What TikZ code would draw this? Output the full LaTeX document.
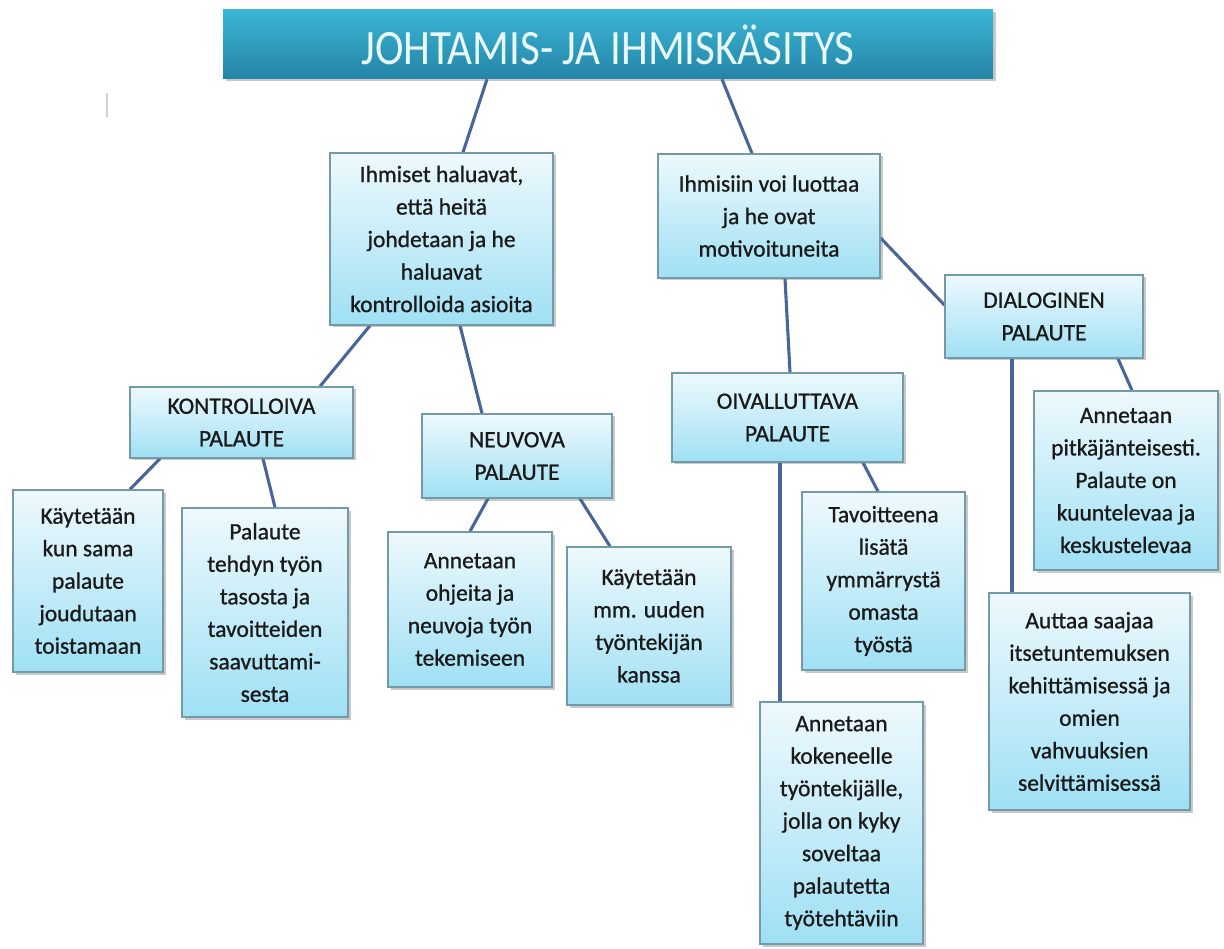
\documentclass[tikz,border=0pt]{standalone}
\usepackage{fontspec}
\setmainfont{Carlito}
\newfontfamily\boxfont[FakeBold=0.9]{Carlito}
\usetikzlibrary{shadows,backgrounds}
\definecolor{boxtop}{HTML}{EEF9FD}
\definecolor{boxbot}{HTML}{9FE0F4}
\definecolor{boxedge}{HTML}{7499A8}
\definecolor{ttop}{HTML}{3AB5D6}
\definecolor{tbot}{HTML}{2584A6}
\definecolor{ttext}{HTML}{E8F8FC}
\definecolor{conn}{HTML}{4A6699}
\definecolor{txt}{HTML}{1A1A1A}
\tikzset{
  box/.style={draw=boxedge, line width=1.3pt, top color=boxtop, bottom color=boxbot,
    align=center, inner sep=0pt, text=txt,
    font=\boxfont\fontsize{23.5}{32.5}\selectfont,
    drop shadow={shadow xshift=2.5pt, shadow yshift=-2.5pt, opacity=0.35, fill=black!60}},
  titlebox/.style={top color=ttop, bottom color=tbot, inner sep=0pt, text=ttext,
    font=\fontsize{43}{50}\selectfont,
    drop shadow={shadow xshift=2.5pt, shadow yshift=-2.5pt, opacity=0.35, fill=black!60}},
  conline/.style={draw=conn, line width=3.1pt},
}
\begin{document}
\begin{tikzpicture}[x=1pt,y=-1pt]
\useasboundingbox (0,0) rectangle (1224,949);

\node[titlebox, minimum width=770pt, minimum height=69pt] (T) at (608,44.5)
  {\scalebox{1}[1.15]{JOHTAMIS- JA IHMISKÄSITYS}};

\node[box, minimum width=223pt, minimum height=172pt] (A) at (441.5,239)
  {Ihmiset haluavat,\\ että heitä\\ johdetaan ja he\\ haluavat\\ kontrolloida asioita};
\node[box, minimum width=222pt, minimum height=124pt] (B) at (769,216)
  {Ihmisiin voi luottaa\\ ja he ovat\\ motivoituneita};
\node[box, minimum width=198pt, minimum height=83pt] (C) at (1044,316.5)
  {DIALOGINEN\\ PALAUTE};
\node[box, minimum width=223pt, minimum height=71pt] (D) at (241.5,422.5)
  {KONTROLLOIVA\\ PALAUTE};
\node[box, minimum width=190pt, minimum height=84pt] (E) at (517,456)
  {NEUVOVA\\ PALAUTE};
\node[box, minimum width=231pt, minimum height=89pt] (F) at (787.5,417.5)
  {OIVALLUTTAVA\\ PALAUTE};
\node[box, minimum width=150pt, minimum height=182pt] (G) at (88,581)
  {Käytetään\\ kun sama\\ palaute\\ joudutaan\\ toistamaan};
\node[box, minimum width=166pt, minimum height=209pt] (H) at (265,612.5)
  {Palaute\\ tehdyn työn\\ tasosta ja\\ tavoitteiden\\ saavuttami-\\ sesta};
\node[box, minimum width=164pt, minimum height=155pt] (I) at (470,609.5)
  {Annetaan\\ ohjeita ja\\ neuvoja työn\\ tekemiseen};
\node[box, minimum width=164pt, minimum height=158pt] (J) at (649,626)
  {Käytetään\\ mm. uuden\\ työntekijän\\ kanssa};
\node[box, minimum width=163pt, minimum height=178pt] (K) at (883.5,581)
  {Tavoitteena\\ lisätä\\ ymmärrystä\\ omasta\\ työstä};
\node[box, minimum width=184pt, minimum height=179pt] (L) at (1126,480.5)
  {Annetaan\\ pitkäjänteisesti.\\ Palaute on\\ kuuntelevaa ja\\ keskustelevaa};
\node[box, minimum width=201pt, minimum height=217pt] (M) at (1089.5,701.5)
  {Auttaa saajaa\\ itsetuntemuksen\\ kehittämisessä ja\\ omien\\ vahvuuksien\\ selvittämisessä};
\node[box, minimum width=163pt, minimum height=242pt] (N) at (841.5,823)
  {Annetaan\\ kokeneelle\\ työntekijälle,\\ jolla on kyky\\ soveltaa\\ palautetta\\ työtehtäviin};

\begin{scope}[on background layer]
\fill[white] (0,0) rectangle (1224,949);
\draw[black!18, line width=1.5pt] (107,93) -- (107,117);
\draw[conline] (T.south -| 487,0) -- (A.north -| 463,0);
\draw[conline] (T.south -| 722,0) -- (B.north -| 752,0);
\draw[conline] (A.south -| 370,0) -- (D.north -| 320,0);
\draw[conline] (A.south -| 460,0) -- (E.north -| 482,0);
\draw[conline] (B.south -| 785,0) -- (F.north -| 790,0);
\draw[conline] (B.east |- 0,238) -- (C.west |- 0,305);
\draw[conline] (D.south -| 160,0) -- (G.north -| 130,0);
\draw[conline] (D.south -| 263,0) -- (H.north -| 275,0);
\draw[conline] (E.south -| 488,0) -- (I.north -| 470,0);
\draw[conline] (E.south -| 580,0) -- (J.north -| 610,0);
\draw[conline] (F.south -| 863,0) -- (K.north -| 878,0);
\draw[conline] (F.south -| 780,0) -- (N.north -| 780,0);
\draw[conline] (C.south -| 1118,0) -- (L.north -| 1132,0);
\draw[conline] (C.south -| 1012,0) -- (M.north -| 1012,0);
\end{scope}
\end{tikzpicture}
\end{document}
